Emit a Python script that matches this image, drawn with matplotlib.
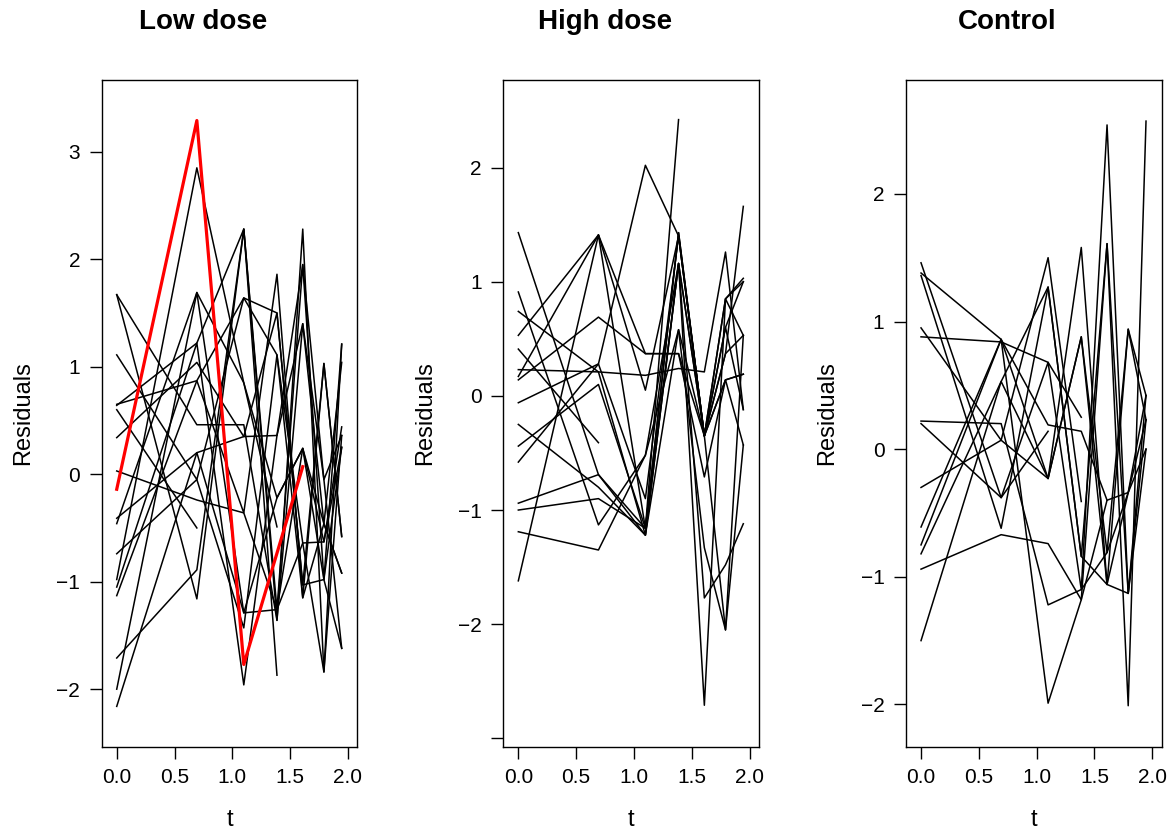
import numpy as np
import matplotlib
matplotlib.use("Agg")
import matplotlib.pyplot as plt

plt.rcParams['font.family'] = ['Liberation Sans', 'DejaVu Sans']

# measurement times (log of day 1..7)
t = np.array([0.0, 0.693, 1.099, 1.386, 1.609, 1.792, 1.946])
nan = np.nan

# residual profiles, one row per subject (nan = not observed)
low_dose = [
    [1.67, -1.16, 2.28, -1.26, 1.95, -0.98, 1.21],
    [1.67, 0.46, 0.46, -1.36, 2.28, -1.84, 0.36],
    [1.11, -0.05, 1.64, 1.50, -1.03, 1.03, -0.58],
    [0.65, 0.87, -0.36, 1.86, -1.15, -0.46, -0.92],
    [0.64, 1.22, 2.28, -1.87, nan, nan, nan],
    [0.60, -0.50, nan, nan, nan, nan, nan],
    [0.34, 1.04, 0.35, 0.36, 1.40, -0.05, -1.62],
    [0.03, -0.24, -0.36, -1.26, -0.64, -0.63, 0.44],
    [-0.41, 0.20, -1.29, -1.26, 0.24, -0.46, 1.04],
    [-0.46, 1.69, 0.85, -0.49, nan, nan, nan],
    [-0.74, -0.05, -1.43, 1.11, -1.15, 1.03, -0.58],
    [-0.98, 2.85, 0.85, -0.22, 0.24, -0.98, 0.25],
    [-1.05, 1.22, -1.96, 0.36, 1.95, -0.05, 0.36],
    [-1.13, 0.87, 1.64, 1.11, -0.64, -1.84, 1.21],
    [-1.71, -0.89, 2.28, -1.36, 1.40, -0.46, -0.92],
    [-2.00, 1.69, -1.29, -0.22, 0.24, -0.63, 0.25],
    [-2.16, 0.20, 0.35, 1.50, -1.03, -0.98, -1.62],
]
low_dose_red = [-0.14, 3.29, -1.77, nan, 0.07, nan, nan]

high_dose = [
    [1.43, -0.69, -1.16, 1.43, -0.35, 0.85, 1.03],
    [0.91, -1.13, -0.52, 1.16, -1.77, -1.48, -1.12],
    [0.74, 0.21, 0.18, 0.24, 0.21, 1.26, -0.12],
    [0.53, 1.41, 0.05, 1.40, -0.35, 0.37, 0.53],
    [0.41, -0.41, nan, nan, nan, nan, nan],
    [0.23, 0.21, -1.22, 1.16, -0.35, 0.60, 1.00],
    [0.17, 1.41, 0.37, 0.37, -0.71, 0.14, 0.19],
    [0.14, 0.69, 0.37, 0.37, -0.35, 0.85, 1.00],
    [-0.06, 0.28, -0.90, 1.40, -0.35, -2.05, -0.43],
    [-0.25, -0.80, -1.22, 0.58, -0.35, 0.37, 1.66],
    [-0.44, 0.10, -1.16, 2.42, nan, nan, nan],
    [-0.58, 0.28, 2.02, 1.40, -0.35, 0.60, -0.12],
    [-0.94, -0.69, -1.22, 1.16, -2.71, 0.85, 0.53],
    [-1.00, -0.90, -1.16, 1.16, -0.35, 0.14, -0.43],
    [-1.19, -1.35, -0.52, 0.58, -1.33, -2.05, 0.53],
    [-1.62, 1.41, -1.16, 1.43, -0.35, 0.14, 0.19],
]

control = [
    [1.46, -0.38, 0.68, -1.10, 2.54, -1.13, 0.23],
    [1.38, 0.86, 0.19, 0.14, -0.40, nan, nan],
    [1.36, -0.62, 1.27, -0.84, 1.61, -2.01, 2.57],
    [0.95, 0.07, -0.23, 1.58, -1.06, 0.94, 0.42],
    [0.88, 0.84, 0.68, 0.25, nan, nan, nan],
    [0.22, 0.20, -1.22, -1.10, -0.81, -0.34, 0.00],
    [0.20, -0.38, 0.14, nan, nan, nan, nan],
    [-0.30, 0.07, 1.50, -0.41, nan, nan, nan],
    [-0.61, 0.86, -0.23, 0.88, -0.81, 0.94, 0.23],
    [-0.75, 0.86, -1.99, -1.18, 1.61, -1.13, 0.00],
    [-0.82, 0.53, 1.27, -0.84, -1.06, -0.34, 0.42],
    [-0.94, -0.67, -0.74, -1.18, -0.40, -0.34, 0.23],
    [-1.50, 0.53, -0.23, 0.88, -1.06, -1.13, 0.42],
]

titles = ["Low dose", "High dose", "Control"]
groups = [low_dose, high_dose, control]
ylims = [(-2.535, 3.667), (-3.073, 2.767), (-2.331, 2.892)]
yticks = [[-2, -1, 0, 1, 2, 3], [-3, -2, -1, 0, 1, 2], [-2, -1, 0, 1, 2]]

fig = plt.figure(figsize=(11.71, 8.30), dpi=100)
lefts = [101.7 / 1171, 503.3 / 1171, 906.0 / 1171]
title_x = [203 / 1171, 605 / 1171, 1007 / 1171]

for i in range(3):
    ax = fig.add_axes([lefts[i], 83.3 / 830, 255.5 / 1171, 666.7 / 830])
    for row in groups[i]:
        y = np.array(row, dtype=float)
        ok = np.isfinite(y)
        ax.plot(t[ok], y[ok], color='black', lw=1.1)
    if i == 0:
        y = np.array(low_dose_red, dtype=float)
        ok = np.isfinite(y)
        ax.plot(t[ok], y[ok], color='red', lw=2.3)

    ax.set_xlim(-0.13, 2.08)
    ax.set_ylim(*ylims[i])
    ax.set_xticks([0.0, 0.5, 1.0, 1.5, 2.0])
    ax.set_xticklabels(["0.0", "0.5", "1.0", "1.5", "2.0"])
    ax.set_yticks(yticks[i])
    labs = [f"{v:d}".replace("-", "\u2212") for v in yticks[i]]
    if i == 1:
        labs[0] = ""
    ax.set_yticklabels(labs)
    ax.tick_params(direction='out', length=8.5, width=1, labelsize=15, pad=7)
    for s in ax.spines.values():
        s.set_linewidth(1.0)
    ax.set_xlabel("t", fontsize=17, labelpad=16)
    ax.set_ylabel("Residuals", fontsize=17, labelpad=16)
    fig.text(title_x[i], 0.9735, titles[i], ha='center', va='center',
             fontsize=20, fontweight='bold')

fig.savefig("out.png", dpi=100)
